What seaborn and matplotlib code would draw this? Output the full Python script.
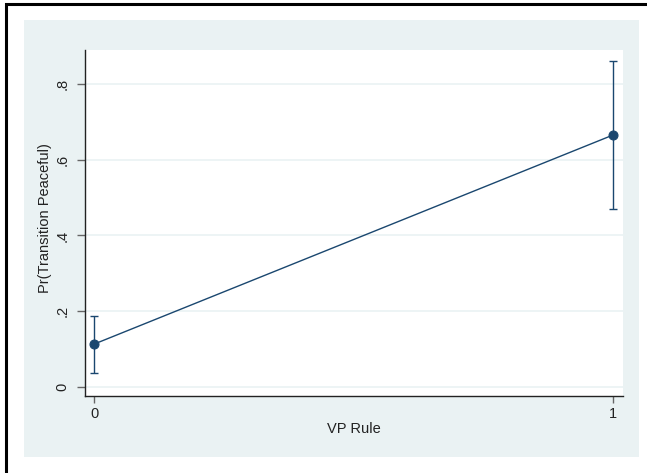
import matplotlib
matplotlib.use("Agg")
import matplotlib.pyplot as plt
import seaborn as sns
import pandas as pd
from matplotlib.patches import Rectangle

# Predicted margins with 95% confidence intervals
vp_rule = [0, 1]
pr_peaceful = [0.113, 0.665]
ci_low = [0.037, 0.471]
ci_high = [0.188, 0.861]
y_ticks = [0, 0.2, 0.4, 0.6, 0.8]
y_tick_labels = ["0", ".2", ".4", ".6", ".8"]
x_ticks = [0, 1]
x_tick_labels = ["0", "1"]

df = pd.DataFrame({"VP Rule": vp_rule, "Pr": pr_peaceful,
                   "lo": ci_low, "hi": ci_high})

sns.set_theme(style="white")
plt.rcParams["font.family"] = ["Liberation Sans", "DejaVu Sans"]

navy = "#1a476f"
bg = "#eaf2f3"

fig = plt.figure(figsize=(6.47, 4.73), dpi=100)
fig.patch.set_facecolor("white")

# shaded graph region and outer frame, kept beneath the axes
fig.patches.append(Rectangle((24 / 647, 1 - 457 / 473), (639 - 24) / 647, (457 - 20) / 473,
                             transform=fig.transFigure, facecolor=bg, edgecolor="none", zorder=-2))
fig.patches.append(Rectangle((6 / 647, -0.1), 1.2, 1 - 4 / 473 + 0.1,
                             transform=fig.transFigure, facecolor="none", edgecolor="black",
                             linewidth=2.2, zorder=-1))

ax = fig.add_axes([85 / 647, 1 - 396 / 473, (623 - 85) / 647, (396 - 50) / 473])
ax.set_facecolor("white")

ax.errorbar(df["VP Rule"], df["Pr"],
            yerr=[df["Pr"] - df["lo"], df["hi"] - df["Pr"]],
            fmt="none", ecolor=navy, elinewidth=1.0, capsize=3.2, capthick=1.0, zorder=3)
sns.lineplot(data=df, x="VP Rule", y="Pr", ax=ax, color=navy, linewidth=1.0,
             marker="o", markersize=6.5, markeredgecolor=navy, zorder=4)

ax.set_xlim(-0.0174, 1.02)
ax.set_ylim(-0.024, 0.89)

ax.set_yticks(y_ticks)
ax.set_yticklabels(y_tick_labels, rotation=90, va="center", fontsize=10.5, color="#222222")
ax.set_xticks(x_ticks)
ax.set_xticklabels(x_tick_labels, fontsize=10.5, color="#222222")

ax.grid(axis="y", color=bg, linewidth=1.2)
ax.grid(axis="x", visible=False)
ax.set_axisbelow(True)

for side in ["top", "right"]:
    ax.spines[side].set_visible(False)
for side in ["left", "bottom"]:
    ax.spines[side].set_color("#222222")
    ax.spines[side].set_linewidth(1.0)

ax.tick_params(axis="y", length=6, width=1, color="#666666", pad=5, left=True)
ax.tick_params(axis="x", length=5, width=1, color="#666666", pad=3, bottom=True)

ax.set_xlabel("VP Rule", fontsize=10.5, color="#222222")
ax.set_ylabel("Pr(Transition Peaceful)", fontsize=10.5, color="#222222")
ax.yaxis.set_label_coords(-0.062, 0.514)
ax.xaxis.set_label_coords(0.5, -0.075)

fig.savefig("out.png", dpi=100)
